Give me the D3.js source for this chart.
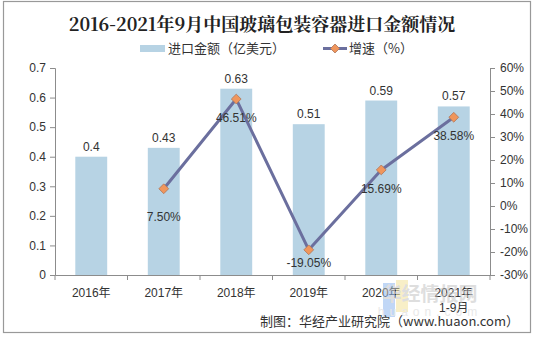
<!DOCTYPE html>
<html>
<head>
<meta charset="utf-8">
<script src="https://cdn.jsdelivr.net/npm/d3@7/dist/d3.min.js"></script>
<style>
  html, body { margin: 0; padding: 0; background: #fff; }
  svg { display: block; }
  text { font-family: "Liberation Sans", Arial, "Noto Sans CJK SC", sans-serif; }
  .cjk { font-family: "Liberation Sans", "Noto Sans CJK SC", sans-serif; }
</style>
</head>
<body>
<svg id="chart" width="535" height="337"></svg>
<script>
// Import value of glass packaging containers (100 million USD) and growth rate (%)
const categories = ["2016年", "2017年", "2018年", "2019年", "2020年", "2021年\n1-9月"];
const importValue = [0.4, 0.43, 0.63, 0.51, 0.59, 0.57];
const growthRate = [null, 7.50, 46.51, -19.05, 15.69, 38.58];
const leftTicks = [0, 0.1, 0.2, 0.3, 0.4, 0.5, 0.6, 0.7];
const rightTicks = [-30, -20, -10, 0, 10, 20, 30, 40, 50, 60];

const title = "2016-2021年9月中国玻璃包装容器进口金额情况";
const seriesNames = ["进口金额（亿美元）", "增速（%）"];
const source = "制图：华经产业研究院（www.huaon.com）";

const svg = d3.select("#chart");
const W = 535, H = 337;
const plot = { left: 55, right: 490, top: 68, bottom: 275 };

const barColor = "#b7d3e4";
const lineColor = "#6b6f9e";
const markerColor = "#f0965c";
const axisColor = "#8c8c8c";
const textColor = "#333";

// outer frame
svg.append("rect")
  .attr("x", 3.5).attr("y", 1.5).attr("width", 527).attr("height", 331)
  .attr("fill", "#fff").attr("stroke", "#999").attr("stroke-width", 1.2);

const x = d3.scaleBand().domain(categories).range([plot.left, plot.right]).paddingInner(0.56).paddingOuter(0.28);
const xb = d3.scaleBand().domain(categories).range([plot.left, plot.right]);
const yL = d3.scaleLinear().domain([0, 0.7]).range([plot.bottom, plot.top]);
const yR = d3.scaleLinear().domain([-30, 60]).range([plot.bottom, plot.top]);

// bars
svg.append("g").selectAll("rect").data(importValue).join("rect")
  .attr("x", (d, i) => x(categories[i]))
  .attr("width", x.bandwidth())
  .attr("y", d => yL(d))
  .attr("height", d => yL(0) - yL(d))
  .attr("fill", barColor);

// bar value labels
svg.append("g").selectAll("text").data(importValue).join("text")
  .attr("x", (d, i) => xb(categories[i]) + xb.bandwidth() / 2)
  .attr("y", d => yL(d) - 6)
  .attr("text-anchor", "middle")
  .attr("font-size", 12)
  .attr("fill", textColor)
  .text(d => String(d));

// left axis
const axL = svg.append("g").attr("transform", `translate(${plot.left},0)`)
  .call(d3.axisLeft(yL).tickValues(leftTicks).tickSize(5).tickPadding(4).tickFormat(d => String(d)));
// right axis
const axR = svg.append("g").attr("transform", `translate(${plot.right},0)`)
  .call(d3.axisRight(yR).tickValues(rightTicks).tickSize(5).tickPadding(5).tickFormat(d => d + "%"));
// bottom axis
const axB = svg.append("g").attr("transform", `translate(0,${plot.bottom})`)
  .call(d3.axisBottom(xb).tickSize(0).tickPadding(9).tickFormat(""));
axB.append("g").selectAll("line").data(d3.range(categories.length + 1)).join("line")
  .attr("x1", i => plot.left + i * xb.step()).attr("x2", i => plot.left + i * xb.step())
  .attr("y1", 0).attr("y2", 5).attr("stroke", axisColor);

[axL, axR, axB].forEach(g => {
  g.selectAll(".domain").attr("stroke", axisColor);
  g.selectAll(".tick line").attr("stroke", axisColor);
  g.selectAll(".tick text").attr("fill", textColor).attr("font-size", 12)
    .style("font-family", '"Liberation Sans", Arial, sans-serif');
});

// category labels (multi-line)
const catG = svg.append("g").selectAll("text").data(categories).join("text")
  .attr("class", "cjk")
  .attr("x", d => xb(d) + xb.bandwidth() / 2)
  .attr("y", plot.bottom + 22)
  .attr("text-anchor", "middle")
  .attr("font-size", 12)
  .attr("fill", textColor);
catG.each(function(d) {
  const t = d3.select(this);
  d.split("\n").forEach((line, k) => {
    t.append("tspan").attr("x", t.attr("x")).attr("dy", k === 0 ? 0 : 15).text(line);
  });
});

// growth line
const pts = growthRate.map((v, i) => ({ v, c: categories[i] })).filter(p => p.v !== null);
const cx = p => xb(p.c) + xb.bandwidth() / 2;
svg.append("path").datum(pts)
  .attr("d", d3.line().x(cx).y(p => yR(p.v)))
  .attr("fill", "none").attr("stroke", lineColor).attr("stroke-width", 3).attr("stroke-linejoin", "round");

const diamond = d3.symbol().type(d3.symbolDiamond2).size(70);
svg.append("g").selectAll("path").data(pts).join("path")
  .attr("transform", p => `translate(${cx(p)},${yR(p.v)}) rotate(45)`)
  .attr("d", d3.symbol().type(d3.symbolSquare).size(48))
  .attr("fill", markerColor).attr("stroke", "#b07a5e").attr("stroke-width", 0.8);

// growth labels below markers
const labelGap = { "2017年": 32, "2019年": 17 };
svg.append("g").selectAll("text").data(pts).join("text")
  .attr("x", cx)
  .attr("y", p => yR(p.v) + (labelGap[p.c] || 23))
  .attr("text-anchor", "middle")
  .attr("font-size", 12)
  .attr("fill", textColor)
  .text(p => p.v.toFixed(2) + "%");

// title
svg.append("text").attr("class", "cjk")
  .attr("x", 262).attr("y", 31)
  .attr("text-anchor", "middle")
  .attr("font-size", 18).attr("font-weight", "bold")
  .attr("fill", "#222")
  .style("font-family", '"Noto Serif CJK SC", "Liberation Serif", "Noto Sans CJK SC", serif')
  .text(title);

// legend
const lg = svg.append("g").attr("class", "cjk");
lg.append("rect").attr("x", 140).attr("y", 45).attr("width", 25).attr("height", 7).attr("fill", barColor);
lg.append("text").attr("x", 168).attr("y", 53).attr("font-size", 13).attr("fill", textColor)
  .style("font-family", '"Noto Sans CJK SC", sans-serif').text(seriesNames[0]);
lg.append("line").attr("x1", 323).attr("x2", 347).attr("y1", 48.5).attr("y2", 48.5)
  .attr("stroke", lineColor).attr("stroke-width", 3);
lg.append("path").attr("transform", "translate(335,48.5) rotate(45)")
  .attr("d", d3.symbol().type(d3.symbolSquare).size(40))
  .attr("fill", markerColor).attr("stroke", "#b07a5e").attr("stroke-width", 0.8);
lg.append("text").attr("x", 349).attr("y", 53).attr("font-size", 13).attr("fill", textColor)
  .style("font-family", '"Noto Sans CJK SC", sans-serif').text(seriesNames[1]);

// watermark
const wm = svg.append("g").attr("opacity", 0.55);
wm.append("rect").attr("x", 383).attr("y", 283).attr("width", 12).attr("height", 34).attr("fill", "#8fb7f0");
wm.append("rect").attr("x", 396).attr("y", 280).attr("width", 12).attr("height", 32).attr("fill", "#f3e29a");
wm.append("text").attr("x", 430).attr("y", 301).attr("text-anchor", "middle")
  .attr("font-size", 19).attr("font-weight", "bold").attr("fill", "#c4c4c4")
  .style("font-family", '"Noto Sans CJK SC", sans-serif').text("华经情报网");
wm.append("text").attr("x", 430).attr("y", 316).attr("text-anchor", "middle")
  .attr("font-size", 12).attr("letter-spacing", 5).attr("fill", "#d6d6d6").text("huaon.com");

// source note
svg.append("text").attr("x", 519).attr("y", 326).attr("text-anchor", "end")
  .attr("font-size", 13).attr("fill", textColor)
  .style("font-family", '"Noto Sans CJK SC", sans-serif')
  .text(source);
</script>
</body>
</html>
